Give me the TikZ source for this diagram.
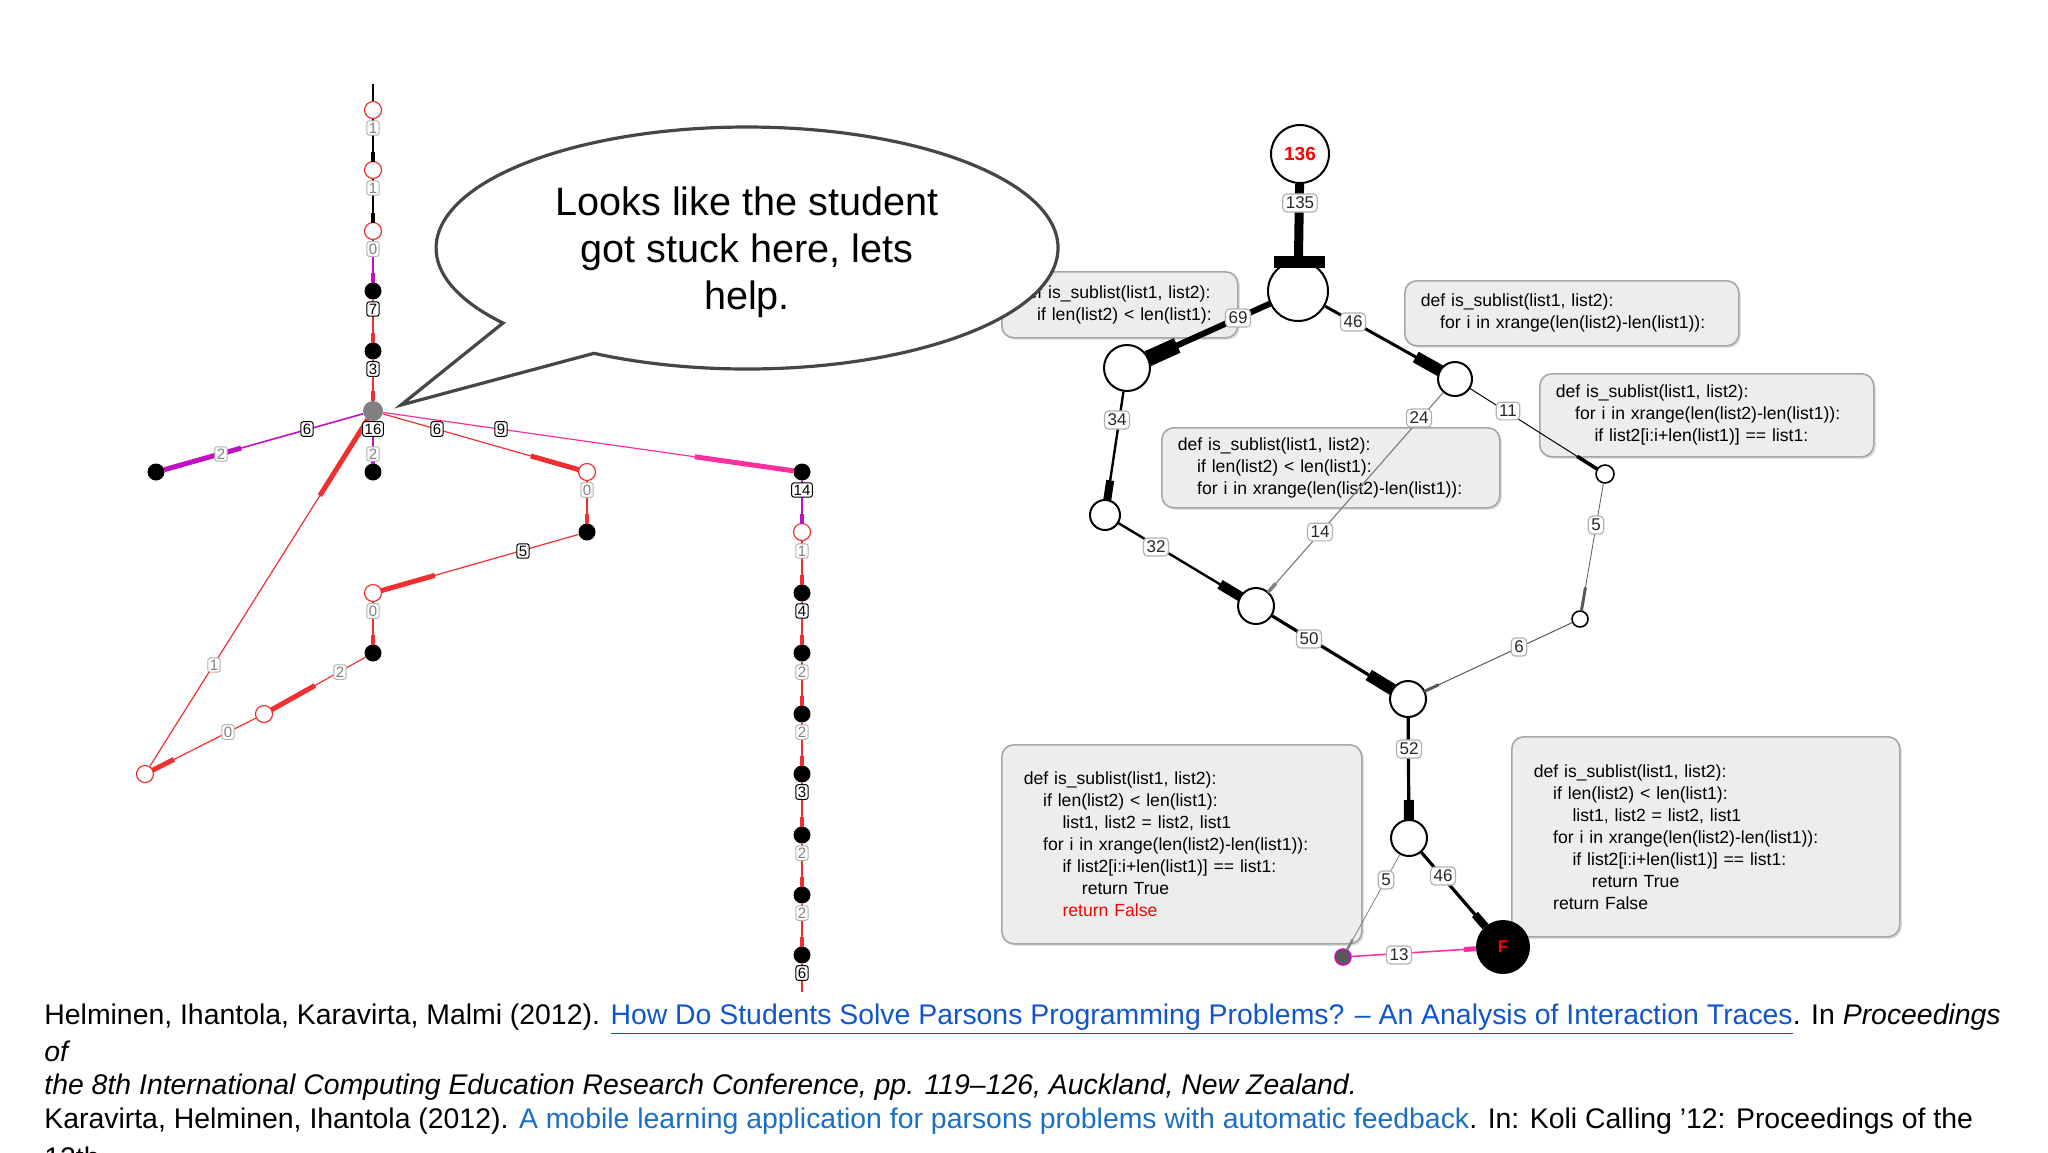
\documentclass[tikz,border=0pt]{standalone}
\usepackage{fontspec}
\setmainfont{Liberation Sans}
\usetikzlibrary{calc,shadows}
\definecolor{mag}{HTML}{C010C0}
\definecolor{pnk}{HTML}{FF2FA0}
\definecolor{rd}{HTML}{F03030}
\definecolor{lnk}{HTML}{1155CC}
\definecolor{lnkb}{HTML}{1A6FC4}
\newcommand{\edg}[7]{%
  \draw[#7,line width=#4] (#1) -- (#2);
  \draw[#7,line width=#5] ($(#2.center)!#3!(#1.center)$) -- ($(#2.center)!#3+#6!(#1.center)$);}
\begin{document}
\begin{tikzpicture}[x=0.5pt,y=-0.5pt,
  oc/.style={circle,draw=rd,fill=white,line width=0.6pt,minimum size=8.5pt,inner sep=0pt},
  fc/.style={circle,fill=black,minimum size=8.5pt,inner sep=0pt},
  lg/.style={draw=gray!60,fill=white,rounded corners=1.2pt,inner sep=1pt,font=\fontsize{7.5}{7.5}\selectfont,text=gray,line width=0.5pt},
  lk/.style={lg,draw=black,text=black},
  rn/.style={circle,draw=black,fill=white,line width=1pt,inner sep=0pt},
  rl/.style={draw=gray!60,fill=white,rounded corners=2pt,inner sep=1.5pt,font=\fontsize{8.5}{8.5}\selectfont,text=gray!30!black,line width=0.6pt},
  box/.style={draw=gray!70,fill=gray!14,rounded corners=6pt,line width=0.8pt,drop shadow={opacity=0.25,shadow xshift=1pt,shadow yshift=-1pt},anchor=north west,align=left,inner xsep=8pt,font=\fontsize{8.8}{11}\selectfont}]
\useasboundingbox (0,0) rectangle (2048,1152);
% ---------------- left tree ----------------
\coordinate (t0) at (373,84);
\node[oc] (o1) at (373,110) {};
\node[oc] (o2) at (373,170) {};
\node[oc] (o3) at (373,231) {};
\node[fc] (f1) at (373,291) {};
\node[fc] (f2) at (373,351) {};
\node[circle,fill=gray,minimum size=10pt,inner sep=0pt] (hub) at (373,411) {};
\node[fc] (f3) at (373,472) {};
\node[fc] (lf) at (156,472) {};
\node[oc] (oa) at (587,472) {};
\node[fc] (fa) at (587,532) {};
\node[oc] (ob) at (373,593) {};
\node[fc] (fb) at (373,653) {};
\node[oc] (oc1) at (264,714) {};
\node[oc] (od) at (145,774) {};
\node[fc] (fr) at (802,472) {};
\node[oc] (or1) at (802,532) {};
\node[fc] (r1) at (802,593) {};
\node[fc] (r2) at (802,653) {};
\node[fc] (r3) at (802,714) {};
\node[fc] (r4) at (802,774) {};
\node[fc] (r5) at (802,835) {};
\node[fc] (r6) at (802,895) {};
\node[fc] (r7) at (802,955) {};
\coordinate (tend) at (802,992);
\draw[black,line width=0.8pt] (t0) -- (o1);
\edg{o1}{o2}{4.2pt}{0.8pt}{2pt}{5pt}{black}
\edg{o2}{o3}{4.2pt}{0.8pt}{2pt}{5pt}{black}
\edg{o3}{f1}{4.2pt}{0.8pt}{2pt}{5pt}{mag}
\edg{f1}{f2}{4.2pt}{0.8pt}{2pt}{5pt}{rd}
\edg{f2}{hub}{5pt}{0.8pt}{2pt}{5pt}{rd}
\edg{hub}{f3}{4.2pt}{0.8pt}{2pt}{5pt}{mag}
\edg{hub}{lf}{4.2pt}{0.8pt}{2.5pt}{40pt}{mag}
\edg{hub}{oa}{4.2pt}{0.6pt}{2.5pt}{25pt}{rd}
\edg{oa}{fa}{4.2pt}{0.6pt}{2pt}{5pt}{rd}
\edg{fa}{ob}{4.2pt}{0.6pt}{2.5pt}{28pt}{rd}
\edg{ob}{fb}{4.2pt}{0.6pt}{2pt}{5pt}{rd}
\edg{fb}{oc1}{4.2pt}{0.6pt}{2.5pt}{25pt}{rd}
\edg{oc1}{od}{4.2pt}{0.6pt}{2.5pt}{12pt}{rd}
\edg{od}{hub}{5pt}{0.6pt}{2.5pt}{45pt}{rd}
\edg{hub}{fr}{4.2pt}{0.6pt}{2.5pt}{50pt}{pnk}
\edg{fr}{or1}{4.2pt}{0.8pt}{2pt}{5pt}{mag}
\edg{or1}{r1}{4.2pt}{0.8pt}{2pt}{5pt}{rd}
\edg{r1}{r2}{4.2pt}{0.8pt}{2pt}{5pt}{rd}
\edg{r2}{r3}{4.2pt}{0.8pt}{2pt}{5pt}{rd}
\edg{r3}{r4}{4.2pt}{0.8pt}{2pt}{5pt}{rd}
\edg{r4}{r5}{4.2pt}{0.8pt}{2pt}{5pt}{rd}
\edg{r5}{r6}{4.2pt}{0.8pt}{2pt}{5pt}{rd}
\edg{r6}{r7}{4.2pt}{0.8pt}{2pt}{5pt}{rd}
\draw[rd,line width=0.8pt] (r7) -- (tend);
\node[lg] (la1) at (373,128) {1};
\node[lg] (la2) at (373,188) {1};
\node[lg] (la3) at (373,249) {0};
\node[lk] (la4) at (373,309) {7};
\node[lk] (la5) at (373,369) {3};
\node[lk] (la6) at (373,429) {16};
\node[lg] (la7) at (373,454) {2};
\node[lg] (la8) at (221,454) {2};
\node[lk] (la9) at (307,429) {6};
\node[lk] (la10) at (437,429) {6};
\node[lk] (la11) at (501,429) {9};
\node[lg] (la12) at (587,490) {0};
\node[lk] (la13) at (523,551) {5};
\node[lg] (la14) at (373,611) {0};
\node[lg] (la15) at (340,672) {2};
\node[lg] (la16) at (228,732) {0};
\node[lg] (la17) at (214,665) {1};
\node[lk] (la18) at (802,490) {14};
\node[lg] (la19) at (802,551) {1};
\node[lk] (la20) at (802,611) {4};
\node[lg] (la21) at (802,672) {2};
\node[lg] (la22) at (802,732) {2};
\node[lk] (la23) at (802,792) {3};
\node[lg] (la24) at (802,853) {2};
\node[lg] (la25) at (802,913) {2};
\node[lk] (la26) at (802,973) {6};
% ---------------- boxes ----------------
\node[box,minimum width=118pt,minimum height=33pt,text width=102pt] (b1) at (1001,271) {def is\_sublist(list1, list2):\\\hspace*{1.1em}if len(list2) < len(list1):};
\node[box,minimum width=167pt,minimum height=32.5pt,text width=151pt] (b2) at (1404,280) {def is\_sublist(list1, list2):\\\hspace*{1.1em}for i in xrange(len(list2)-len(list1)):};
\node[box,minimum width=167pt,minimum height=41.5pt,text width=151pt] (b3) at (1539,373) {def is\_sublist(list1, list2):\\\hspace*{1.1em}for i in xrange(len(list2)-len(list1)):\\\hspace*{2.2em}if list2[i:i+len(list1)] == list1:};
\node[box,minimum width=169pt,minimum height=40pt,text width=153pt] (b4) at (1161,427) {def is\_sublist(list1, list2):\\\hspace*{1.1em}if len(list2) < len(list1):\\\hspace*{1.1em}for i in xrange(len(list2)-len(list1)):};
\node[box,minimum width=180pt,minimum height=99.5pt,text width=158pt,inner xsep=11pt] (b5) at (1001,744) {def is\_sublist(list1, list2):\\\hspace*{1.1em}if len(list2) < len(list1):\\\hspace*{2.2em}list1, list2 = list2, list1\\\hspace*{1.1em}for i in xrange(len(list2)-len(list1)):\\\hspace*{2.2em}if list2[i:i+len(list1)] == list1:\\\hspace*{3.3em}return True\\\hspace*{2.2em}\textcolor{red}{return False}};
\node[box,minimum width=194pt,minimum height=100pt,text width=172pt,inner xsep=11pt] (b6) at (1511,736) {def is\_sublist(list1, list2):\\\hspace*{1.1em}if len(list2) < len(list1):\\\hspace*{2.2em}list1, list2 = list2, list1\\\hspace*{1.1em}for i in xrange(len(list2)-len(list1)):\\\hspace*{2.2em}if list2[i:i+len(list1)] == list1:\\\hspace*{3.3em}return True\\\hspace*{1.1em}return False};
% ---------------- right graph ----------------
\node[rn,minimum size=29pt,font=\bfseries\fontsize{9.5}{9.5}\selectfont,text=red] (n136) at (1300,154) {136};
\node[rn,minimum size=30pt] (A) at (1298,291) {};
\node[rn,minimum size=23pt] (B) at (1127,368) {};
\node[rn,minimum size=17pt] (C) at (1455,379) {};
\node[rn,minimum size=9pt,line width=0.8pt] (D) at (1605,474) {};
\node[rn,minimum size=8pt,line width=0.8pt] (E) at (1580,619) {};
\node[rn,minimum size=15pt] (G) at (1105,515) {};
\node[rn,minimum size=18pt] (H) at (1256,606) {};
\node[rn,minimum size=18pt] (I) at (1408,699) {};
\node[rn,minimum size=18pt] (J) at (1409,838) {};
\node[circle,fill=black,minimum size=27pt,inner sep=0pt,text=red,font=\bfseries\fontsize{8.5}{8.5}\selectfont] (F) at (1503,947) {F};
\node[circle,fill=gray!70!black,draw=mag,line width=0.8pt,minimum size=8pt,inner sep=0pt] (S) at (1343,957) {};
\draw[line width=4.5pt] (n136) -- (A);
\fill (1274,256) -- (1325,256) -- (1325,268) -- (1274,268) -- cycle;
\edg{A}{B}{11.5pt}{3pt}{8pt}{16pt}{black}
\edg{A}{C}{8.5pt}{1.5pt}{6pt}{14pt}{black}
\edg{B}{G}{7.5pt}{1.2pt}{4pt}{10pt}{black}
\edg{G}{H}{9pt}{1.2pt}{5pt}{12pt}{black}
\edg{C}{H}{9pt}{0.6pt}{1.8pt}{6pt}{gray}
\edg{C}{D}{4.5pt}{0.5pt}{1.8pt}{12pt}{black}
\edg{D}{E}{4pt}{0.4pt}{1.5pt}{12pt}{gray!70!black}
\edg{E}{I}{9pt}{0.5pt}{1.5pt}{8pt}{gray!70!black}
\edg{H}{I}{9pt}{1.6pt}{6pt}{14pt}{black}
\edg{I}{J}{9pt}{1.6pt}{5pt}{10pt}{black}
\edg{J}{F}{13.5pt}{1.6pt}{4pt}{8pt}{black}
\edg{J}{S}{4pt}{0.4pt}{1.2pt}{6pt}{gray}
\edg{S}{F}{13.5pt}{0.8pt}{2.5pt}{6pt}{pnk}
\node[rl] (l135) at (1300,203) {135};
\node[rl] (l69) at (1238,318) {69};
\node[rl] (l46a) at (1353,322) {46};
\node[rl] (l24) at (1419,418) {24};
\node[rl] (l11) at (1508,411) {11};
\node[rl] (l5a) at (1596,525) {5};
\node[rl] (l6) at (1519,647) {6};
\node[rl] (l34) at (1117,420) {34};
\node[rl] (l32) at (1156,547) {32};
\node[rl] (l14) at (1320,532) {14};
\node[rl] (l50) at (1309,639) {50};
\node[rl] (l52) at (1409,749) {52};
\node[rl] (l5b) at (1386,880) {5};
\node[rl] (l46b) at (1443,876) {46};
\node[rl] (l13) at (1399,955) {13};
% ---------------- speech bubble ----------------
\draw[gray!55!black,line width=1.6pt,fill=white] (503,323) arc[start angle=141.7,end angle=479.5,x radius=311,y radius=121] -- (401,405) -- cycle;
\node[align=center,font=\fontsize{19.8}{23.5}\selectfont] (bt) at (747,252) {Looks like the student\\got stuck here, lets\\help.};
% ---------------- references ----------------
\begin{scope}[every node/.style={anchor=west,inner sep=0pt,font=\fontsize{14.2}{14.2}\selectfont}]
\node (c1) at (44,1019) {Helminen, Ihantola, Karavirta, Malmi (2012). \textcolor{lnk}{\underline{How Do Students Solve Parsons Programming Problems? -- An Analysis of Interaction Traces}}. In \textit{Proceedings}};
\node (c2) at (44,1051) {\textit{of}};
\node (c3) at (44,1087) {\textit{the 8th International Computing Education Research Conference, pp. 119--126, Auckland, New Zealand.}};
\node (c4) at (44,1121) {Karavirta, Helminen, Ihantola (2012). \textcolor{lnkb}{A mobile learning application for parsons problems with automatic feedback}. In: Koli Calling '12: Proceedings of the};
\node (c5) at (44,1157) {12th};
\end{scope}
\end{tikzpicture}
\end{document}
